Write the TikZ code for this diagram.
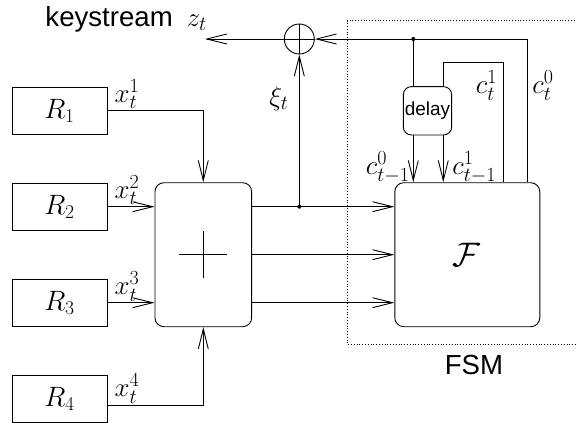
\RequirePackage{fix-cm}
\documentclass[tikz,border=0pt]{standalone}
\usepackage{fontspec}
\setsansfont{Liberation Sans}
\DeclareMathSizes{27}{27}{20}{15}
\usetikzlibrary{arrows.meta}
\tikzset{
  arr/.style={-{Straight Barb[length=20pt,width=10pt]}},
  rbox/.style={draw, minimum width=95pt, minimum height=47.5pt, inner sep=0pt, font=\fontsize{28}{30}\selectfont},
  ubox/.style={draw, rounded corners=9pt, inner sep=0pt},
  lab/.style={inner sep=0pt, font=\fontsize{27}{29}\selectfont},
  sans/.style={inner sep=0pt, font=\sffamily\fontsize{27.6}{29}\selectfont},
  fsmframe/.style={line width=0.6pt, dash pattern=on 0.8pt off 2pt},
  jdot/.style={circle, fill, inner sep=0pt, minimum size=4pt}
}
\begin{document}
\begin{tikzpicture}[x=1pt,y=-1pt,line width=0.9pt]
\useasboundingbox (0,0) rectangle (576,426);
% FSM frame
\draw[fsmframe] (580,20.7) -- (347.3,20.7) -- (347.3,344.3) -- (580,344.3);
\node[sans] (fsm) at (474,365) {FSM};
% registers
\node[rbox] (R1) at (59.5,110.7) {$R_1$};
\node[rbox] (R2) at (59.5,206.7) {$R_2$};
\node[rbox] (R3) at (59.5,302.7) {$R_3$};
\node[rbox] (R4) at (59.5,398.7) {$R_4$};
% adder
\node[ubox, minimum width=96.7pt, minimum height=144pt] (P) at (203.3,254.7) {};
\draw (P.center) ++(-24,0) -- ++(48,0);
\draw (P.center) ++(0,-23.5) -- ++(0,47);
% FSM box
\node[ubox, minimum width=145pt, minimum height=144pt] (F) at (467.3,254.7) {};
\node[inner sep=0pt, font=\fontsize{34}{36}\selectfont] (Fl) at (466,255) {$\mathcal{F}$};
% xor
\node[draw, circle, minimum size=30pt, inner sep=0pt] (O) at (299.3,39) {};
\draw (O.north) -- (O.south);
\draw (O.west) -- (O.east);
% delay
\node[ubox, rounded corners=8pt, minimum width=48.3pt, minimum height=48.3pt, font=\sffamily\fontsize{19}{21}\selectfont] (D) at (427.5,110.8) {delay};
% input connectors
\draw[arr] (R1.east) -| (P.north);
\draw[arr] (R2.east) -- (P.west |- R2.east);
\draw[arr] (R3.east) -- (P.west |- R3.east);
\coordinate (r4o) at (107,405);
\draw[arr] (r4o) -| (P.south);
\node[lab] (x1) at (127,94) {$x_t^1$};
\node[lab] (x2) at (127,190) {$x_t^2$};
\node[lab] (x3) at (127,286.5) {$x_t^3$};
\node[lab] (x4) at (127,388.5) {$x_t^4$};
% adder to F
\draw[arr] ([yshift=48pt]P.east) -- ([yshift=48pt]F.west);
\draw[arr] (P.east) -- (F.west);
\draw[arr] ([yshift=-48pt]P.east) -- ([yshift=-48pt]F.west);
\coordinate (J) at (299.3,206.7);
\node[jdot] (Jd) at (J) {};
\draw[arr] (J) -- (O.south);
\node[lab] (xi) at (279,98.5) {$\xi_t$};
% output
\coordinate (ks) at (205,39);
\draw[arr] (O.west) -- (ks);
\node[sans, anchor=base west] (kst) at (45,26.7) {keystream\hspace{14pt}\fontsize{27}{29}\selectfont$z_t$};
% FSM feedback
\coordinate (T0) at (527.7,39);
\draw[arr] (F.north -| T0) -- (T0) -- (O.east);
\coordinate (Dt) at (413.3,39);
\node[jdot] (Dtd) at (Dt) {};
\draw (Dt) -- (Dt |- D.north);
\draw[arr] (Dt |- D.south) -- (Dt |- F.north);
\coordinate (L1) at (503.3,62.3);
\coordinate (L2) at (443.3,62.3);
\draw (F.north -| L1) -- (L1) -- (L2) -- (L2 |- D.north);
\draw[arr] (L2 |- D.south) -- (L2 |- F.north);
\node[lab] (c1) at (486.5,85.5) {$c_t^1$};
\node[lab] (c0) at (543,85.5) {$c_t^0$};
\node[lab, anchor=east] (cm0) at (410,167.5) {$c_{t-1}^0$};
\node[lab, anchor=west] (cm1) at (452,167.5) {$c_{t-1}^1$};
\end{tikzpicture}
\end{document}
